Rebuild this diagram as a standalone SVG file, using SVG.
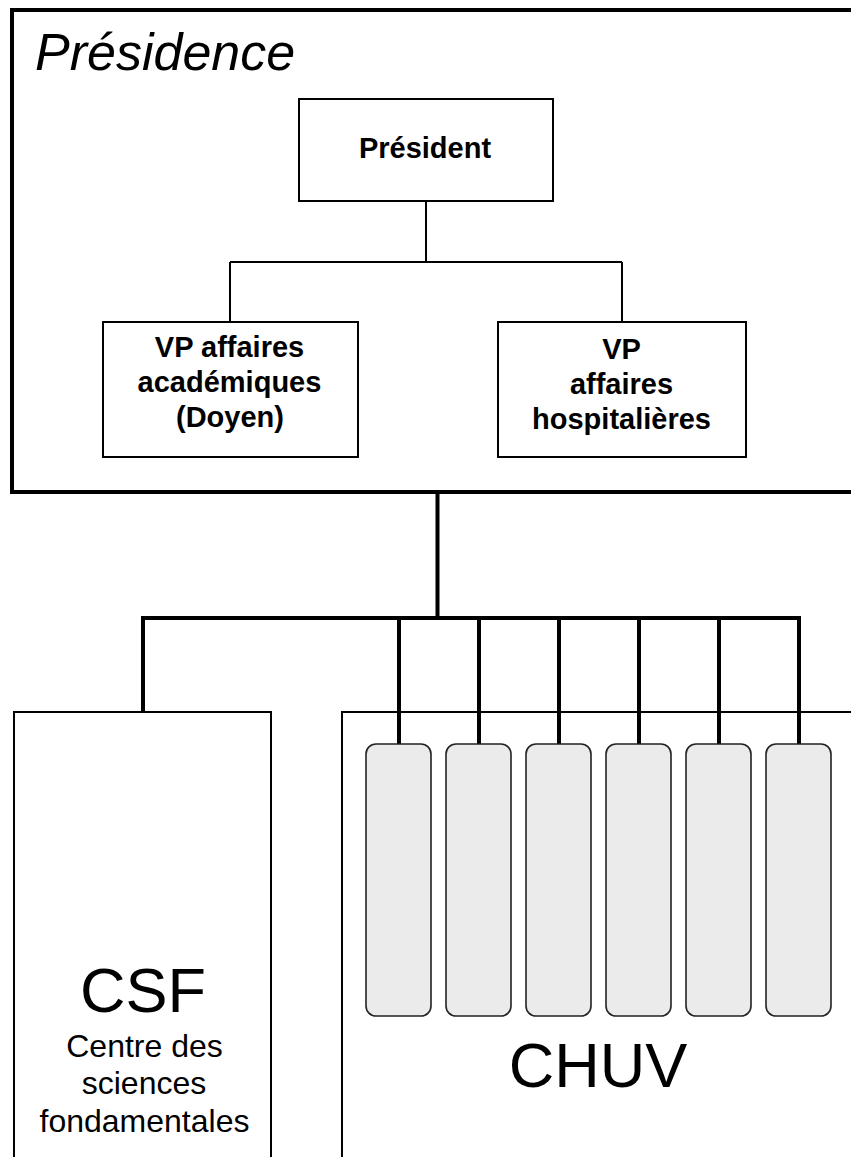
<svg xmlns="http://www.w3.org/2000/svg" width="851" height="1157" viewBox="0 0 851 1157">
<style>
.box{fill:#fff;stroke:#000;stroke-width:2}
.unit{fill:#ebebeb;stroke:#222;stroke-width:1.6}
.thin{fill:none;stroke:#000;stroke-width:2}
.thick{fill:none;stroke:#000;stroke-width:4;stroke-linecap:square}
.b{font-family:"Liberation Sans",Arial,sans-serif;font-weight:bold;text-anchor:middle;fill:#000;font-size:29px}
.r{font-family:"Liberation Sans",Arial,sans-serif;text-anchor:middle;fill:#000}
</style>
<rect width="851" height="1157" fill="#fff"/>
<g id="presidence">
<rect x="12" y="10" width="860" height="482" fill="#fff" stroke="#000" stroke-width="4"/>
<text x="35" y="70" font-family="Liberation Sans, Arial, sans-serif" font-style="italic" font-size="52">Présidence</text>
</g>
<g id="csf">
<rect class="box" x="14" y="712" width="257" height="470"/>
<text class="r" x="143" y="1012" font-size="63">CSF</text>
<text class="r" x="144.5" y="1057" font-size="32">Centre des</text>
<text class="r" x="144" y="1094" font-size="32">sciences</text>
<text class="r" x="144.5" y="1132" font-size="32">fondamentales</text>
</g>
<g id="chuv">
<rect class="box" x="342" y="712" width="540" height="470"/>
<text class="r" x="598" y="1087" font-size="63">CHUV</text>
</g>
<g id="connectors">
<path class="thin" d="M426 201V262M230 262H622M230 262V321M622 262V321"/>
<path class="thick" d="M437.5 494V618M143 618H799M143 618V711M399 618V744M479 618V744M559 618V744M639 618V744M719 618V744M799 618V744"/>
</g>
<g id="president">
<rect class="box" x="299" y="99" width="254" height="102"/>
<text class="b" x="425" y="158">Président</text>
</g>
<g id="vp-academique">
<rect class="box" x="103" y="322" width="255" height="135"/>
<text class="b" x="229.5" y="357">VP affaires</text>
<text class="b" x="229.5" y="392">académiques</text>
<text class="b" x="230" y="427">(Doyen)</text>
</g>
<g id="vp-hospitalier">
<rect class="box" x="498" y="322" width="248" height="135"/>
<text class="b" x="621.5" y="359">VP</text>
<text class="b" x="621.5" y="394">affaires</text>
<text class="b" x="621.5" y="429">hospitalières</text>
</g>
<g id="unit-1"><rect class="unit" x="366" y="744" width="65" height="272" rx="10"/></g>
<g id="unit-2"><rect class="unit" x="446" y="744" width="65" height="272" rx="10"/></g>
<g id="unit-3"><rect class="unit" x="526" y="744" width="65" height="272" rx="10"/></g>
<g id="unit-4"><rect class="unit" x="606" y="744" width="65" height="272" rx="10"/></g>
<g id="unit-5"><rect class="unit" x="686" y="744" width="65" height="272" rx="10"/></g>
<g id="unit-6"><rect class="unit" x="766" y="744" width="65" height="272" rx="10"/></g>
</svg>
